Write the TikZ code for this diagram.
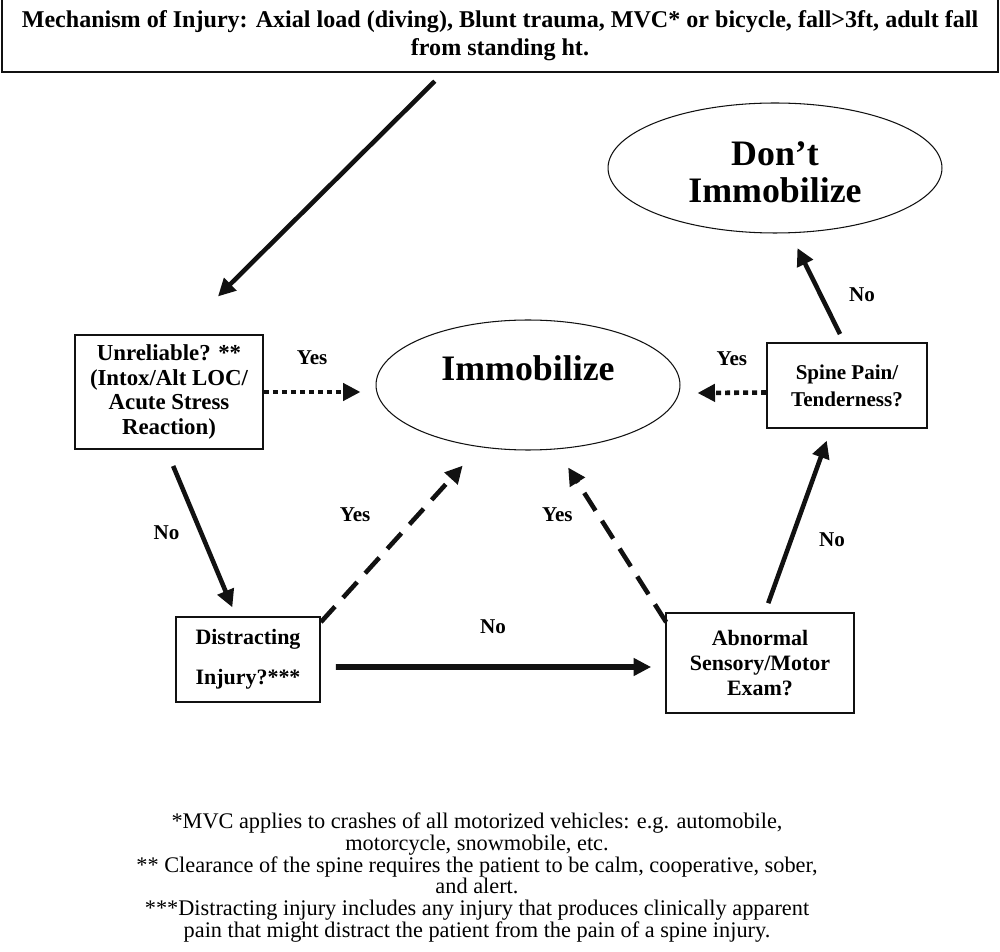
\documentclass[tikz,border=0pt]{standalone}
\usepackage{fontspec}
\setmainfont{Liberation Serif}
\usetikzlibrary{arrows.meta, positioning, shapes.geometric}
\definecolor{Ink}{HTML}{111111}

\begin{document}
\begin{tikzpicture}[
    x=0.02cm, y=-0.02cm,
    qbox/.style={
        draw=Ink, line width=1pt, align=center, inner sep=2pt,
        font=\fontsize{12.5}{14.4}\selectfont\bfseries
    },
    oval/.style={
        draw=Ink, line width=0.6pt, ellipse, inner sep=0pt, align=center,
        font=\fontsize{20.4}{21.5}\selectfont\bfseries
    },
    arr/.style={-{Triangle[length=0.35cm, width=0.34cm]}, line width=2.6pt, draw=Ink},
    yesdot/.style={arr, dash pattern=on 0.1cm off 0.08cm},
    yesdash/.style={arr, dash pattern=on 0.42cm off 0.24cm},
    lbl/.style={font=\fontsize{12}{14}\selectfont\bfseries, inner sep=0pt}
]

\path[use as bounding box, fill=white] (0,0) rectangle (1000,952);

% =============================================
% Mechanism of injury (top)
% =============================================
\node[qbox, line width=1.2pt, minimum width=19.92cm, minimum height=1.46cm,
      font=\fontsize{13.7}{15.9}\selectfont\bfseries] (mech) at (500,35.5)
    {Mechanism of Injury: Axial load (diving), Blunt trauma, MVC* or bicycle, fall>3ft, adult fall\\from standing ht.};

% =============================================
% Decision boxes
% =============================================
\node[qbox, minimum width=3.76cm, minimum height=2.28cm,
      font=\fontsize{13}{14.2}\selectfont\bfseries] (unrel) at (169,392)
    {Unreliable? **\\(Intox/Alt LOC/\\Acute Stress\\Reaction)};

\node[qbox, minimum width=2.88cm, minimum height=1.7cm, align=left] (dist) at (248,659.5)
    {Distracting\\[0.29cm]Injury?***};

\node[qbox, minimum width=3.76cm, minimum height=2cm] (abn) at (760,663)
    {Abnormal\\Sensory/Motor\\Exam?};

\node[qbox, minimum width=3.2cm, minimum height=1.7cm,
      font=\fontsize{12}{15.3}\selectfont\bfseries] (spine) at (847,385.5)
    {Spine Pain/\\Tenderness?};

% =============================================
% Outcomes
% =============================================
\node[oval, minimum width=6.08cm, minimum height=2.6cm, text depth=0.68cm] (immob) at (528,385)
    {Immobilize};

\node[oval, minimum width=6.68cm, minimum height=2.6cm] (dont) at (775,168)
    {\rule{0pt}{0.65cm}Don’t\\Immobilize};

% =============================================
% Connectors
% =============================================
\draw[arr, shorten <=0.23cm, shorten >=1.07cm] ([shift={(-57,0)}]mech.south) -- ([shift={(11,0)}]unrel.north);

\draw[yesdot] (unrel.east) -- ([shift={(-15,7)}]immob.west)
    node[lbl, midway, above=0.5cm] {Yes};
\draw[yesdot] ([shift={(0,7)}]spine.west) -- ([shift={(17,8)}]immob.east)
    node[lbl, midway, above=0.5cm] {Yes};

\draw[arr, shorten <=0.35cm, shorten >=0.19cm] ([shift={(-2.6,0)}]unrel.south) -- ([shift={(-12,0)}]dist.north)
    node[lbl, midway, left=0.39cm] {No};

\draw[arr, line width=3.4pt, shorten <=0.3cm, shorten >=0.28cm] ([shift={(0,7.5)}]dist.east) -- ([shift={(0,4)}]abn.west)
    node[lbl, midway, above=0.6cm] {No};

\draw[yesdash, shorten >=0.5cm] ([shift={(0,6)}]dist.north east) -- (immob.232)
    node[lbl, midway, xshift=-0.9cm, yshift=0.4cm] {Yes};
\draw[yesdash, shorten >=0.43cm] ([shift={(1,10)}]abn.north west) -- (immob.294)
    node[lbl, midway, xshift=-1.08cm, yshift=0.42cm] {Yes};

\draw[arr, shorten <=0.19cm, shorten >=0.25cm] ([shift={(5,0)}]abn.north) -- ([shift={(-16,0)}]spine.south)
    node[lbl, midway, xshift=0.68cm, yshift=-0.39cm] {No};
\draw[arr, shorten <=0.18cm, shorten >=0.33cm] ([shift={(-3,0)}]spine.north) -- (dont.283)
    node[lbl, midway, xshift=0.9cm, yshift=-0.14cm] {No};

% =============================================
% Footnotes
% =============================================
\node[font=\fontsize{12.7}{12.4}\selectfont, align=center, inner sep=0pt] (notes) at (477,877.5)
    {*MVC applies to crashes of all motorized vehicles: e.g. automobile,\\
     motorcycle, snowmobile, etc.\\
     ** Clearance of the spine requires the patient to be calm, cooperative, sober,\\
     and alert.\\
     ***Distracting injury includes any injury that produces clinically apparent\\
     pain that might distract the patient from the pain of a spine injury.};

\end{tikzpicture}
\end{document}
